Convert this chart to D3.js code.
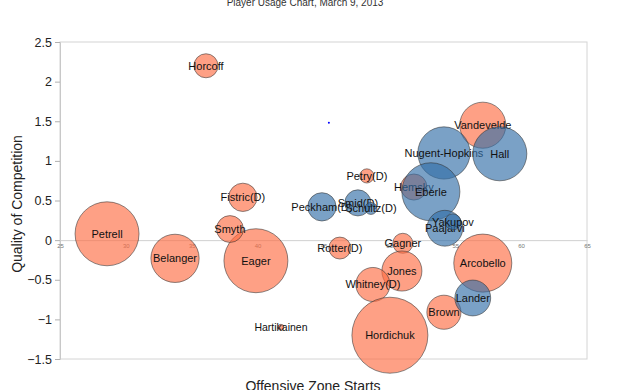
<!DOCTYPE html>
<html><head><meta charset="utf-8">
<script src="https://cdn.jsdelivr.net/npm/d3@7"></script>
<style>body{margin:0;background:#fff;} svg{display:block;font-family:"Liberation Sans",Arial,sans-serif;}</style>
</head><body>
<svg id="c" width="622" height="390"></svg>
<script>
const title = "Player Usage Chart, March 9, 2013";
const players = ["Horcoff","Petrell","Belanger","Eager","Smyth","Fistric(D)","Peckham(D)","Rotter(D)","Smid(D)","Schultz(D)","Petry(D)","Vandevelde","Hemsky","Nugent-Hopkins","Eberle","Hall","Paajarvi","Yakupov","Gagner","Jones","Whitney(D)","Hordichuk","Brown","Arcobello","Lander","Hartikainen",""];
const ozStarts = [36.08,28.57,33.73,39.87,37.90,38.88,44.88,46.24,47.61,48.60,48.29,57.09,51.86,54.14,53.15,58.38,54.21,54.82,51.02,50.95,48.75,50.04,54.14,57.09,56.33,41.77,45.41];
const qoc = [2.20,0.08,-0.23,-0.26,0.14,0.54,0.42,-0.10,0.47,0.40,0.81,1.45,0.67,1.10,0.61,1.09,0.15,0.23,-0.04,-0.39,-0.56,-1.20,-0.91,-0.29,-0.73,-1.10,1.48];
const toi = [14.4,102,58,102,18,20,20,12,17,3.6,5,53,17,68,84,73,32,6.4,10,40,29,144,29,84,32,0.9,0.1];
const group = ["neg","neg","neg","neg","neg","neg","pos","neg","pos","pos","neg","neg","neg","pos","pos","pos","pos","pos","neg","neg","neg","neg","neg","neg","pos","neg","dot"];
const xTicks = [25,30,35,40,45,50,55,60,65];
const yTicks = [2.5,2,1.5,1,0.5,0,-0.5,-1,-1.5];

const data = players.map((n,i)=>({name:n,x:ozStarts[i],y:qoc[i],s:toi[i],g:group[i]}));
const svg = d3.select("#c");
const L=60,R=587,T=42,B=359;
const x = d3.scaleLinear().domain([25,65]).range([L,R]);
const y = d3.scaleLinear().domain([-1.5,2.5]).range([B,T]);
const r = d3.scaleSqrt().domain([0,144]).range([0,38]);
const fill = d3.scaleOrdinal().domain(["neg","pos","dot"]).range(["#fd6d44","#336fa8","#0000ff"]);

// frame
svg.append("rect").attr("x",L).attr("y",T).attr("width",R-L).attr("height",B-T)
  .attr("fill","none").attr("stroke","#d4d4d4").attr("stroke-width",1);

// y axis
const ya = svg.append("g").attr("transform",`translate(${L},0)`)
  .call(d3.axisLeft(y).tickValues(yTicks).tickSize(5).tickPadding(3).tickFormat(d3.format("")));
ya.select(".domain").attr("stroke","#c8c8c8");
ya.selectAll(".tick line").attr("stroke","#b0b0b0");
ya.selectAll("text").attr("font-size",12.5).attr("fill","#222").attr("font-family","Liberation Sans, Arial");

// x axis along zero
const xa = svg.append("g").attr("transform",`translate(0,${y(0)})`)
  .call(d3.axisBottom(x).tickValues(xTicks).tickSize(0).tickPadding(4));
xa.select(".domain").attr("stroke","#d0d0d0");
xa.selectAll("text").attr("font-size",6).attr("fill","#777").attr("font-family","Liberation Sans, Arial");

// bubbles
const g = svg.append("g");
const node = g.selectAll("g").data(data).join("g")
  .attr("transform",d=>`translate(${x(d.x)},${y(d.y)})`);
node.append("circle").attr("r",d=>Math.max(1,r(d.s)))
  .attr("fill",d=>fill(d.g))
  .attr("fill-opacity",d=>d.g==="dot"?1:0.65)
  .attr("stroke",d=>d.g==="dot"?"none":"#333")
  .attr("stroke-opacity",0.7).attr("stroke-width",0.8);
node.append("text").text(d=>d.name).attr("text-anchor","middle").attr("dy","0.35em")
  .attr("font-size",d=>d.name==="Hartikainen"?10.5:11).attr("fill","#111");

// titles
svg.append("text").attr("x",305).attr("y",6).attr("text-anchor","middle")
  .attr("font-size",10).attr("fill","#333").text(title);
svg.append("text").attr("transform","translate(22,204) rotate(-90)").attr("text-anchor","middle")
  .attr("font-size",14).attr("fill","#222").text("Quality of Competition");
svg.append("text").attr("x",313).attr("y",391).attr("text-anchor","middle")
  .attr("font-size",14).attr("fill","#222").text("Offensive Zone Starts");
</script>
</body></html>
